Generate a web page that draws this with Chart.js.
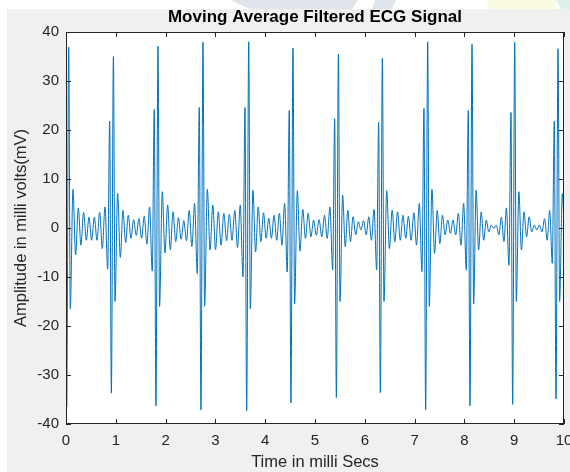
<!DOCTYPE html>
<html>
<head>
<meta charset="utf-8">
<title>Moving Average Filtered ECG Signal</title>
<script src="https://cdn.jsdelivr.net/npm/chart.js@4.4.1/dist/chart.umd.min.js"></script>
<style>
  html, body { margin: 0; padding: 0; background: #fff; }
  #wrap { width: 570px; height: 472px; }
</style>
</head>
<body>
<div id="wrap"><canvas id="ecgChart" width="570" height="472"></canvas></div>
<script>
/* filtered ECG trace: one row per heart beat
   (extrema only, the line is smoothed between them) */
const timeMs = [
  0.000, 0.014, 0.054, 0.086, 0.140, 0.193, 0.247, 0.300, 0.354, 0.408, 0.461, 0.515, 0.569, 0.622, 0.676, 0.729, 0.783,
  0.837, 0.877, 0.911, 0.952, 0.984, 1.037, 1.091, 1.144, 1.198, 1.251, 1.304, 1.358, 1.411, 1.465, 1.518, 1.571, 1.625, 1.678,
  1.732, 1.772, 1.806, 1.847, 1.879, 1.933, 1.987, 2.041, 2.095, 2.149, 2.203, 2.258, 2.312, 2.366, 2.420, 2.474, 2.528, 2.582,
  2.636, 2.676, 2.710, 2.751, 2.783, 2.838, 2.893, 2.948, 3.003, 3.058, 3.114, 3.169, 3.224, 3.279, 3.334, 3.389, 3.444, 3.499,
  3.554, 3.594, 3.628, 3.669, 3.701, 3.754, 3.807, 3.860, 3.913, 3.966, 4.019, 4.072, 4.125, 4.178, 4.231, 4.284, 4.337, 4.390,
  4.443, 4.483, 4.517, 4.558, 4.590, 4.645, 4.699, 4.754, 4.808, 4.863, 4.918, 4.972, 5.027, 5.082, 5.136, 5.191, 5.245, 5.300,
  5.355, 5.395, 5.429, 5.470, 5.502, 5.555, 5.607, 5.660, 5.712, 5.765, 5.818, 5.870, 5.923, 5.976, 6.028, 6.081, 6.133, 6.186,
  6.238, 6.278, 6.312, 6.353, 6.385, 6.440, 6.494, 6.549, 6.603, 6.658, 6.712, 6.767, 6.821, 6.876, 6.930, 6.985, 7.039, 7.094,
  7.148, 7.188, 7.222, 7.263, 7.295, 7.348, 7.401, 7.454, 7.507, 7.560, 7.613, 7.666, 7.719, 7.772, 7.826, 7.879, 7.932, 7.985,
  8.038, 8.078, 8.112, 8.153, 8.185, 8.236, 8.286, 8.337, 8.388, 8.439, 8.489, 8.540, 8.591, 8.641, 8.692, 8.743, 8.794, 8.844,
  8.895, 8.935, 8.969, 9.010, 9.042, 9.094, 9.145, 9.197, 9.249, 9.300, 9.352, 9.403, 9.455, 9.507, 9.558, 9.610, 9.662, 9.713,
  9.765, 9.805, 9.839, 9.880, 9.912, 9.966, 10.020
];

const amplitude = [
  18.6, -36.5, 36.9, -16.5, 7.9, -5.5, 4.1, -3.5, 3.2, -2.5, 2.2, -2.5, 2.2, -2.5, 3.2, -4.2, 4.3,
  -8.4, 21.8, -33.7, 35.0, -15.0, 7.1, -6.0, 3.6, -3.0, 2.6, -2.1, 1.7, -1.5, 1.9, -2.1, 2.4, -3.3, 4.3,
  -8.8, 24.2, -36.3, 37.1, -16.0, 7.4, -5.1, 4.7, -4.5, 3.3, -2.8, 2.1, -2.3, 1.5, -2.6, 3.6, -3.8, 5.0,
  -9.3, 24.6, -37.1, 37.9, -16.0, 7.9, -4.5, 4.7, -4.4, 3.3, -3.5, 3.0, -2.6, 2.8, -2.5, 3.6, -4.0, 4.7,
  -10.0, 24.6, -37.3, 38.0, -16.5, 7.7, -4.9, 4.3, -2.8, 3.1, -2.1, 2.0, -2.1, 2.6, -2.5, 3.0, -3.5, 5.0,
  -9.0, 24.0, -35.7, 36.7, -15.5, 7.6, -4.7, 3.8, -2.1, 3.0, -1.8, 1.6, -1.5, 1.7, -1.8, 2.6, -2.1, 4.3,
  -8.6, 22.3, -34.6, 35.5, -15.0, 6.7, -3.8, 3.6, -2.8, 2.3, -1.4, 1.3, -0.4, 1.5, -1.4, 2.3, -2.5, 3.8,
  -8.6, 21.6, -33.6, 34.7, -15.0, 7.6, -4.2, 3.6, -2.8, 3.3, -2.5, 2.6, -2.1, 2.4, -2.5, 3.1, -3.5, 5.0,
  -8.9, 24.4, -37.1, 38.0, -16.0, 7.9, -5.2, 3.6, -3.2, 2.6, -1.4, 1.6, -1.1, 1.6, -1.4, 3.0, -3.5, 5.0,
  -8.6, 24.0, -36.3, 37.5, -15.5, 7.7, -4.5, 3.3, -2.5, 1.6, -0.8, 0.6, -0.1, 0.6, -1.4, 2.2, -2.8, 4.1,
  -7.6, 23.6, -36.0, 37.9, -15.0, 7.4, -4.5, 3.3, -1.8, 2.3, -0.8, 0.6, -0.4, 0.6, -0.8, 1.9, -2.5, 3.6,
  -7.2, 21.8, -34.9, 36.6, -15.0, 7.0, -5.0
];

const xTicks = [0, 1, 2, 3, 4, 5, 6, 7, 8, 9, 10];
const yTicks = [-40, -30, -20, -10, 0, 10, 20, 30, 40];

const axisColor = "#262626";
const lineBlue = "#0072BD";
const fontFamily = "'Liberation Sans', Arial, Helvetica, sans-serif";

const points = timeMs.map((t, i) => ({ x: t, y: amplitude[i] }));

// figure background, box, inward ticks and the title
const matlabFrame = {
    id: "matlabFrame",
    beforeDraw(chart) {
        const { ctx, width, height, chartArea: a } = chart;
        ctx.save();
        ctx.fillStyle = "#ffffff";
        ctx.fillRect(0, 0, width, height);
        // faint ribbon shapes along the top edge
        ctx.fillStyle = "#dfe5ea";
        ctx.beginPath();
        ctx.moveTo(230, 0); ctx.lineTo(358, 0); ctx.lineTo(352, 9); ctx.lineTo(250, 9);
        ctx.closePath(); ctx.fill();
        ctx.beginPath();
        ctx.moveTo(375, 0); ctx.lineTo(396, 0); ctx.lineTo(392, 9); ctx.lineTo(372, 9);
        ctx.closePath(); ctx.fill();
        ctx.fillStyle = "#fbfbe2";
        ctx.fillRect(488, 0, 68, 9);
        ctx.fillStyle = "#dcf1e8";
        ctx.beginPath();
        ctx.moveTo(556, 0); ctx.lineTo(570, 0); ctx.lineTo(570, 9); ctx.lineTo(561, 9);
        ctx.closePath(); ctx.fill();

        ctx.fillStyle = "#f0f0f0";
        ctx.fillRect(7, 9, width - 7, height - 9);
        ctx.fillStyle = "#ffffff";
        ctx.fillRect(a.left, a.top, a.right - a.left, a.bottom - a.top);
        ctx.restore();
    },
    afterDraw(chart) {
        const { ctx, chartArea: a, scales } = chart;
        const tick = 5;
        ctx.save();
        ctx.strokeStyle = axisColor;
        ctx.lineWidth = 1;
        ctx.beginPath();
        xTicks.forEach(v => {
            const px = Math.round(scales.x.getPixelForValue(v)) + 0.5;
            ctx.moveTo(px, a.bottom); ctx.lineTo(px, a.bottom - tick);
            ctx.moveTo(px, a.top); ctx.lineTo(px, a.top + tick);
        });
        yTicks.forEach(v => {
            const py = Math.round(scales.y.getPixelForValue(v)) + 0.5;
            ctx.moveTo(a.left, py); ctx.lineTo(a.left + tick, py);
            ctx.moveTo(a.right, py); ctx.lineTo(a.right - tick, py);
        });
        ctx.stroke();
        ctx.strokeRect(a.left + 0.5, a.top + 0.5, a.right - a.left - 1, a.bottom - a.top - 1);

        ctx.fillStyle = "#000000";
        ctx.font = "bold 17px " + fontFamily;
        ctx.textAlign = "center";
        ctx.textBaseline = "middle";
        ctx.fillText("Moving Average Filtered ECG Signal", (a.left + a.right) / 2, 17);
        ctx.restore();
    }
};

const ctx = document.getElementById("ecgChart").getContext("2d");

const chart = new Chart(ctx, {
    type: "line",
    data: {
        datasets: [{
            data: points,
            borderColor: lineBlue,
            borderWidth: 1,
            pointRadius: 0,
            fill: false,
            cubicInterpolationMode: "monotone"
        }]
    },
    options: {
        responsive: false,
        animation: false,
        events: [],
        layout: { padding: { top: 32, right: 6, left: 0, bottom: 0 } },
        plugins: {
            legend: { display: false },
            tooltip: { enabled: false }
        },
        scales: {
            x: {
                type: "linear",
                min: 0,
                max: 10,
                afterBuildTicks: scale => { scale.ticks = xTicks.map(v => ({ value: v })); },
                afterFit: scale => { scale.height = 48; scale.paddingLeft = 0; scale.paddingRight = 0; },
                grid: { display: false, drawTicks: false },
                border: { display: false },
                ticks: { color: axisColor, font: { family: fontFamily, size: 15 }, padding: 8, maxRotation: 0, autoSkip: false },
                title: {
                    display: true,
                    text: "Time in milli Secs",
                    color: axisColor,
                    font: { family: fontFamily, size: 16.5 },
                    padding: { top: 0, bottom: 0 }
                }
            },
            y: {
                type: "linear",
                min: -40,
                max: 40,
                afterBuildTicks: scale => { scale.ticks = yTicks.map(v => ({ value: v })); },
                afterFit: scale => { scale.width = 66; scale.paddingTop = 0; scale.paddingBottom = 0; },
                grid: { display: false, drawTicks: false },
                border: { display: false },
                ticks: { color: axisColor, font: { family: fontFamily, size: 15 }, padding: 7 },
                title: {
                    display: true,
                    text: "Amplitude in milli volts(mV)",
                    color: axisColor,
                    font: { family: fontFamily, size: 16.5 },
                    padding: { top: 12, bottom: 0 }
                }
            }
        }
    },
    plugins: [matlabFrame]
});
</script>
</body>
</html>
